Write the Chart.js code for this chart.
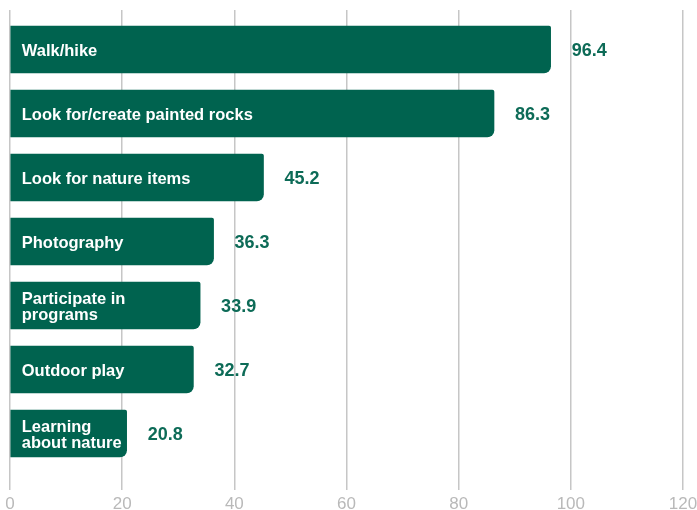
<!DOCTYPE html>
<html>
<head>
<meta charset="utf-8">
<script src="https://cdn.jsdelivr.net/npm/chart.js@4/dist/chart.umd.min.js"></script>
<style>
  html, body { margin: 0; padding: 0; background: #fff; }
  #wrap { width: 697px; height: 510px; }
</style>
</head>
<body>
<div id="wrap"><canvas id="chart"></canvas></div>
<script>
const activities = [
  ['Walk/hike'],
  ['Look for/create painted rocks'],
  ['Look for nature items'],
  ['Photography'],
  ['Participate in', 'programs'],
  ['Outdoor play'],
  ['Learning', 'about nature']
];
const percents = [96.4, 86.3, 45.2, 36.3, 33.9, 32.7, 20.8];
const xTicks = [0, 20, 40, 60, 80, 100, 120];

const green = '#00634f';
const font = '"Liberation Sans", Arial, sans-serif';

// activity name inside each bar, value just past its end
const barText = {
  id: 'barText',
  afterDatasetsDraw(chart) {
    const ctx = chart.ctx;
    const bars = chart.getDatasetMeta(0).data;
    ctx.save();
    ctx.textAlign = 'left';
    ctx.textBaseline = 'middle';
    bars.forEach((bar, i) => {
      const lines = activities[i];
      const lh = 16;
      const y0 = bar.y - (lines.length - 1) * lh / 2 + 1.5;
      ctx.font = 'bold 16.5px ' + font;
      ctx.fillStyle = '#fff';
      lines.forEach((line, k) => ctx.fillText(line, bar.base + 11, y0 + k * lh));

      ctx.font = 'bold 18px ' + font;
      ctx.fillStyle = '#0d6b57';
      ctx.fillText(percents[i].toFixed(1), bar.x + 21, bar.y + 2);
    });
    ctx.restore();
  }
};

new Chart(document.getElementById('chart'), {
  type: 'bar',
  data: {
    datasets: [{
      data: percents.map((v, i) => ({ x: v, y: i })),
      backgroundColor: green,
      borderSkipped: false,
      borderRadius: { topLeft: 0, bottomLeft: 0, topRight: 2, bottomRight: 7 },
      barThickness: 47
    }]
  },
  options: {
    indexAxis: 'y',
    responsive: true,
    maintainAspectRatio: false,
    animation: false,
    layout: { padding: { left: 0, right: 0, top: 10, bottom: 0 } },
    plugins: {
      legend: { display: false },
      tooltip: { enabled: false }
    },
    scales: {
      x: {
        type: 'linear',
        min: 0,
        max: 120,
        afterBuildTicks: axis => { axis.ticks = xTicks.map(v => ({ value: v })); },
        // fixed plot box: labels may run off the bottom and right edge
        afterFit: axis => {
          axis.paddingLeft = 10;
          axis.paddingRight = 14;
          axis.height = 20;
        },
        grid: { color: '#c6c6c6', lineWidth: 1.5, drawTicks: false },
        border: { display: false },
        ticks: {
          color: '#b9b9b9',
          padding: 4,
          font: { family: font, size: 17 }
        }
      },
      y: {
        type: 'linear',
        reverse: true,
        offset: false,
        min: -0.617,
        max: 6.883,
        display: false
      }
    }
  },
  plugins: [barText]
});
</script>
</body>
</html>
